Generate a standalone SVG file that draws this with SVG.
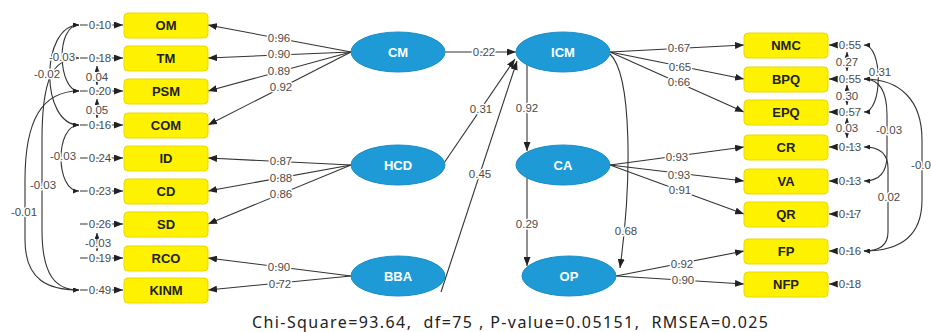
<svg xmlns="http://www.w3.org/2000/svg" width="931" height="332" viewBox="0 0 931 332">
<defs>
<marker id="ah" markerWidth="9" markerHeight="7" refX="9" refY="3.5" orient="auto" markerUnits="userSpaceOnUse"><path d="M0,0 L9,3.5 L0,7 z" fill="#222"/></marker>
<marker id="sh" markerWidth="6" markerHeight="5" refX="6" refY="2.5" orient="auto-start-reverse" markerUnits="userSpaceOnUse"><path d="M0,0 L6,2.5 L0,5 z" fill="#222"/></marker>
</defs>
<style>
.box{fill:#FFF200;stroke:#E9D900;stroke-width:1}
.bt{font-family:"Liberation Sans",Arial,sans-serif;font-size:13px;font-weight:bold;fill:#222;text-anchor:middle}
.ell{fill:#1E9BD7;stroke:#1A8DC6;stroke-width:1}
.et{font-family:"Liberation Sans",Arial,sans-serif;font-size:13px;font-weight:bold;fill:#fff;text-anchor:middle}
.ln{fill:none;stroke:#333;stroke-width:1.1}
.lbl{font-family:"Liberation Sans",Arial,sans-serif;font-size:11.5px;fill:#4a4a4a;text-anchor:middle;paint-order:stroke;stroke:#fff;stroke-width:3px;stroke-linejoin:round}
.cap{font-family:"Noto Sans","Open Sans",sans-serif;font-size:16px;fill:#222}
</style>
<rect width="931" height="332" fill="#fff"/>

<g id="connectors">
<line class="ln" x1="351" y1="52" x2="208" y2="25" marker-end="url(#ah)"/>
<line class="ln" x1="351" y1="52" x2="208" y2="58" marker-end="url(#ah)"/>
<line class="ln" x1="351" y1="52" x2="208" y2="91" marker-end="url(#ah)"/>
<line class="ln" x1="351" y1="52" x2="208" y2="125" marker-end="url(#ah)"/>
<line class="ln" x1="351" y1="165" x2="208" y2="158" marker-end="url(#ah)"/>
<line class="ln" x1="351" y1="165" x2="208" y2="191" marker-end="url(#ah)"/>
<line class="ln" x1="351" y1="165" x2="208" y2="224" marker-end="url(#ah)"/>
<line class="ln" x1="351" y1="276" x2="208" y2="258" marker-end="url(#ah)"/>
<line class="ln" x1="351" y1="276" x2="208" y2="290" marker-end="url(#ah)"/>
<line class="ln" x1="445" y1="52" x2="516" y2="52" marker-end="url(#ah)"/>
<line class="ln" x1="444" y1="163" x2="515" y2="59" marker-end="url(#ah)"/>
<line class="ln" x1="441" y1="292" x2="517" y2="61" marker-end="url(#ah)"/>
<line class="ln" x1="527" y1="65" x2="527" y2="151" marker-end="url(#ah)"/>
<line class="ln" x1="527" y1="178" x2="527" y2="266" marker-end="url(#ah)"/>
<path class="ln" d="M610,54 C632,75 632,180 620,268" marker-end="url(#ah)"/>
<line class="ln" x1="610" y1="52" x2="744" y2="45" marker-end="url(#ah)"/>
<line class="ln" x1="610" y1="52" x2="744" y2="79" marker-end="url(#ah)"/>
<line class="ln" x1="610" y1="52" x2="744" y2="112" marker-end="url(#ah)"/>
<line class="ln" x1="610" y1="165" x2="744" y2="147" marker-end="url(#ah)"/>
<line class="ln" x1="610" y1="165" x2="744" y2="181" marker-end="url(#ah)"/>
<line class="ln" x1="610" y1="165" x2="744" y2="214" marker-end="url(#ah)"/>
<line class="ln" x1="616" y1="276" x2="744" y2="251" marker-end="url(#ah)"/>
<line class="ln" x1="616" y1="276" x2="744" y2="284" marker-end="url(#ah)"/>

<line class="ln" x1="80" y1="25" x2="123" y2="25" marker-end="url(#ah)"/>
<line class="ln" x1="80" y1="58" x2="123" y2="58" marker-end="url(#ah)"/>
<line class="ln" x1="80" y1="91" x2="123" y2="91" marker-end="url(#ah)"/>
<line class="ln" x1="80" y1="125" x2="123" y2="125" marker-end="url(#ah)"/>
<line class="ln" x1="80" y1="158" x2="123" y2="158" marker-end="url(#ah)"/>
<line class="ln" x1="80" y1="191" x2="123" y2="191" marker-end="url(#ah)"/>
<line class="ln" x1="80" y1="224" x2="123" y2="224" marker-end="url(#ah)"/>
<line class="ln" x1="80" y1="258" x2="123" y2="258" marker-end="url(#ah)"/>
<line class="ln" x1="80" y1="290" x2="123" y2="290" marker-end="url(#ah)"/>
<line class="ln" x1="858" y1="45" x2="829" y2="45" marker-end="url(#ah)"/>
<line class="ln" x1="858" y1="79" x2="829" y2="79" marker-end="url(#ah)"/>
<line class="ln" x1="858" y1="112" x2="829" y2="112" marker-end="url(#ah)"/>
<line class="ln" x1="858" y1="147" x2="829" y2="147" marker-end="url(#ah)"/>
<line class="ln" x1="858" y1="181" x2="829" y2="181" marker-end="url(#ah)"/>
<line class="ln" x1="858" y1="214" x2="829" y2="214" marker-end="url(#ah)"/>
<line class="ln" x1="858" y1="251" x2="829" y2="251" marker-end="url(#ah)"/>
<line class="ln" x1="858" y1="284" x2="829" y2="284" marker-end="url(#ah)"/>

<path class="ln" d="M79,25 C55,25 58,91 79,91" marker-start="url(#sh)" marker-end="url(#sh)"/>
<path class="ln" d="M79,25 C40,25 40,125 79,125" marker-start="url(#sh)" marker-end="url(#sh)"/>
<path class="ln" d="M79,58 C52,58 42,80 42,140 L42,230 C42,276 56,290 79,290" marker-start="url(#sh)" marker-end="url(#sh)"/>
<path class="ln" d="M79,91 C42,91 25,120 25,180 L25,240 C25,280 48,290 79,290" marker-start="url(#sh)" marker-end="url(#sh)"/>
<path class="ln" d="M79,125 C55,125 55,191 79,191" marker-start="url(#sh)" marker-end="url(#sh)"/>
<line class="ln" x1="97" y1="66" x2="97" y2="85" marker-start="url(#sh)" marker-end="url(#sh)"/>
<line class="ln" x1="97" y1="99" x2="97" y2="118" marker-start="url(#sh)" marker-end="url(#sh)"/>
<line class="ln" x1="97" y1="233" x2="97" y2="251" marker-start="url(#sh)" marker-end="url(#sh)"/>
<path class="ln" d="M864,45 C883,45 883,112 864,112" marker-start="url(#sh)" marker-end="url(#sh)"/>
<path class="ln" d="M864,79 C880,79 887,92 887,115 L887,155 C887,172 880,181 864,181" marker-start="url(#sh)" marker-end="url(#sh)"/>
<path class="ln" d="M864,147 C878,147 888,153 888,168 L888,232 C888,245 880,251 864,251" marker-start="url(#sh)" marker-end="url(#sh)"/>
<path class="ln" d="M864,79 C900,79 922,100 922,140 L922,200 C922,236 900,251 864,251" marker-start="url(#sh)" marker-end="url(#sh)"/>
<line class="ln" x1="847" y1="52" x2="847" y2="71" marker-start="url(#sh)" marker-end="url(#sh)"/>
<line class="ln" x1="847" y1="85" x2="847" y2="105" marker-start="url(#sh)" marker-end="url(#sh)"/>
<line class="ln" x1="847" y1="118" x2="847" y2="138" marker-start="url(#sh)" marker-end="url(#sh)"/>

<text class="lbl" x="279" y="42">0.96</text>
<text class="lbl" x="279" y="58">0.90</text>
<text class="lbl" x="279" y="75">0.89</text>
<text class="lbl" x="281" y="91">0.92</text>
<text class="lbl" x="281" y="165">0.87</text>
<text class="lbl" x="281" y="182">0.88</text>
<text class="lbl" x="281" y="198">0.86</text>
<text class="lbl" x="279" y="271">0.90</text>
<text class="lbl" x="280" y="288">0.72</text>
<text class="lbl" x="484" y="56">0.22</text>
<text class="lbl" x="481" y="113">0.31</text>
<text class="lbl" x="480" y="178">0.45</text>
<text class="lbl" x="527" y="112">0.92</text>
<text class="lbl" x="527" y="228">0.29</text>
<text class="lbl" x="626" y="235">0.68</text>
<text class="lbl" x="679" y="52">0.67</text>
<text class="lbl" x="680" y="71">0.65</text>
<text class="lbl" x="679" y="86">0.66</text>
<text class="lbl" x="677" y="161">0.93</text>
<text class="lbl" x="679" y="179">0.93</text>
<text class="lbl" x="680" y="194">0.91</text>
<text class="lbl" x="682" y="268">0.92</text>
<text class="lbl" x="683" y="284">0.90</text>
<text class="lbl" x="100" y="29">0.10</text>
<text class="lbl" x="100" y="62">0.18</text>
<text class="lbl" x="100" y="95">0.20</text>
<text class="lbl" x="100" y="129">0.16</text>
<text class="lbl" x="100" y="162">0.24</text>
<text class="lbl" x="100" y="195">0.23</text>
<text class="lbl" x="100" y="228">0.26</text>
<text class="lbl" x="100" y="262">0.19</text>
<text class="lbl" x="100" y="294">0.49</text>
<text class="lbl" x="97" y="81">0.04</text>
<text class="lbl" x="97" y="114">0.05</text>
<text class="lbl" x="98" y="247">-0.03</text>
<text class="lbl" x="62" y="61">-0.03</text>
<text class="lbl" x="47" y="78">-0.02</text>
<text class="lbl" x="63" y="160">-0.03</text>
<text class="lbl" x="43" y="189">-0.03</text>
<text class="lbl" x="24" y="216">-0.01</text>
<text class="lbl" x="850" y="49">0.55</text>
<text class="lbl" x="850" y="83">0.55</text>
<text class="lbl" x="850" y="116">0.57</text>
<text class="lbl" x="850" y="151">0.13</text>
<text class="lbl" x="850" y="185">0.13</text>
<text class="lbl" x="850" y="218">0.17</text>
<text class="lbl" x="850" y="255">0.16</text>
<text class="lbl" x="850" y="288">0.18</text>
<text class="lbl" x="847" y="66">0.27</text>
<text class="lbl" x="847" y="100">0.30</text>
<text class="lbl" x="847" y="132">0.03</text>
<text class="lbl" x="880" y="76">0.31</text>
<text class="lbl" x="889" y="134">-0.03</text>
<text class="lbl" x="889" y="201">0.02</text>
<text class="lbl" x="921" y="169">-0.0</text>
</g>

<g id="OM"><rect class="box" x="124" y="13" width="84" height="25" rx="4"/><text class="bt" x="166" y="30">OM</text></g>
<g id="TM"><rect class="box" x="124" y="46" width="84" height="25" rx="4"/><text class="bt" x="166" y="63">TM</text></g>
<g id="PSM"><rect class="box" x="124" y="79" width="84" height="25" rx="4"/><text class="bt" x="166" y="96">PSM</text></g>
<g id="COM"><rect class="box" x="124" y="113" width="84" height="25" rx="4"/><text class="bt" x="166" y="130">COM</text></g>
<g id="ID"><rect class="box" x="124" y="146" width="84" height="25" rx="4"/><text class="bt" x="166" y="163">ID</text></g>
<g id="CD"><rect class="box" x="124" y="179" width="84" height="25" rx="4"/><text class="bt" x="166" y="196">CD</text></g>
<g id="SD"><rect class="box" x="124" y="212" width="84" height="25" rx="4"/><text class="bt" x="166" y="229">SD</text></g>
<g id="RCO"><rect class="box" x="124" y="246" width="84" height="25" rx="4"/><text class="bt" x="166" y="263">RCO</text></g>
<g id="KINM"><rect class="box" x="124" y="278" width="84" height="25" rx="4"/><text class="bt" x="166" y="295">KINM</text></g>

<g id="CM"><ellipse class="ell" cx="398" cy="52" rx="47" ry="20"/><text class="et" x="398" y="57">CM</text></g>
<g id="HCD"><ellipse class="ell" cx="398" cy="165" rx="47" ry="20"/><text class="et" x="398" y="170">HCD</text></g>
<g id="BBA"><ellipse class="ell" cx="398" cy="276" rx="47" ry="20"/><text class="et" x="398" y="281">BBA</text></g>
<g id="ICM"><ellipse class="ell" cx="563" cy="52" rx="47" ry="20"/><text class="et" x="563" y="57">ICM</text></g>
<g id="CA"><ellipse class="ell" cx="563" cy="165" rx="47" ry="20"/><text class="et" x="563" y="170">CA</text></g>
<g id="OP"><ellipse class="ell" cx="569" cy="276" rx="47" ry="20"/><text class="et" x="569" y="281">OP</text></g>

<g id="NMC"><rect class="box" x="744" y="33" width="84" height="25" rx="4"/><text class="bt" x="786" y="50">NMC</text></g>
<g id="BPQ"><rect class="box" x="744" y="67" width="84" height="25" rx="4"/><text class="bt" x="786" y="84">BPQ</text></g>
<g id="EPQ"><rect class="box" x="744" y="100" width="84" height="25" rx="4"/><text class="bt" x="786" y="117">EPQ</text></g>
<g id="CR"><rect class="box" x="744" y="135" width="84" height="25" rx="4"/><text class="bt" x="786" y="152">CR</text></g>
<g id="VA"><rect class="box" x="744" y="169" width="84" height="25" rx="4"/><text class="bt" x="786" y="186">VA</text></g>
<g id="QR"><rect class="box" x="744" y="202" width="84" height="25" rx="4"/><text class="bt" x="786" y="219">QR</text></g>
<g id="FP"><rect class="box" x="744" y="239" width="84" height="25" rx="4"/><text class="bt" x="786" y="256">FP</text></g>
<g id="NFP"><rect class="box" x="744" y="272" width="84" height="25" rx="4"/><text class="bt" x="786" y="289">NFP</text></g>

<text class="cap" x="252" y="328" textLength="516" lengthAdjust="spacing" xml:space="preserve">Chi-Square=93.64,  df=75 , P-value=0.05151,  RMSEA=0.025</text>
</svg>
